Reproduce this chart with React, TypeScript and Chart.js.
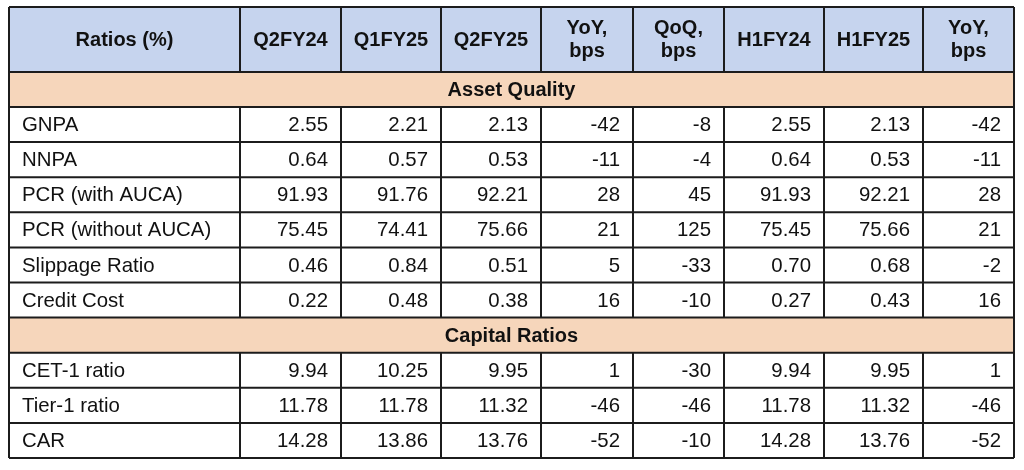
import React, { useEffect, useRef } from "react";
import { Chart, registerables } from "chart.js";

Chart.register(...registerables);

// ---- Data ----
const headers = ["Ratios (%)", "Q2FY24", "Q1FY25", "Q2FY25", "YoY,\nbps", "QoQ,\nbps", "H1FY24", "H1FY25", "YoY,\nbps"];
const sectionTitles = ["Asset Quality", "Capital Ratios"];
const assetLabels = ["GNPA", "NNPA", "PCR (with AUCA)", "PCR (without AUCA)", "Slippage Ratio", "Credit Cost"];
const capitalLabels = ["CET-1 ratio", "Tier-1 ratio", "CAR"];
const q2fy24 = [2.55, 0.64, 91.93, 75.45, 0.46, 0.22, 9.94, 11.78, 14.28];
const q1fy25 = [2.21, 0.57, 91.76, 74.41, 0.84, 0.48, 10.25, 11.78, 13.86];
const q2fy25 = [2.13, 0.53, 92.21, 75.66, 0.51, 0.38, 9.95, 11.32, 13.76];
const yoyBps = [-42, -11, 28, 21, 5, 16, 1, -46, -52];
const qoqBps = [-8, -4, 45, 125, -33, -10, -30, -46, -10];
const h1fy24 = [2.55, 0.64, 91.93, 75.45, 0.7, 0.27, 9.94, 11.78, 14.28];
const h1fy25 = [2.13, 0.53, 92.21, 75.66, 0.68, 0.43, 9.95, 11.32, 13.76];
const yoyH1Bps = [-42, -11, 28, 21, -2, 16, 1, -46, -52];

// ---- Layout (relative units) ----
const colWidths = [231, 101, 100, 100, 92, 91, 100, 99, 91];
const headerHeight = 1.85;

const FONT = '"Liberation Sans", Arial, Helvetica, sans-serif';
const HEADER_BG = "#c6d4ee";
const SECTION_BG = "#f6d6bb";
const LINE = "#1c1c1c";

type Row =
  | { kind: "section"; title: string }
  | { kind: "data"; label: string; idx: number };

function buildRows(): Row[] {
  const rows: Row[] = [];
  rows.push({ kind: "section", title: sectionTitles[0] });
  assetLabels.forEach((l, i) => rows.push({ kind: "data", label: l, idx: i }));
  rows.push({ kind: "section", title: sectionTitles[1] });
  capitalLabels.forEach((l, i) => rows.push({ kind: "data", label: l, idx: assetLabels.length + i }));
  return rows;
}

const columns: { values: number[]; decimals: number }[] = [
  { values: q2fy24, decimals: 2 },
  { values: q1fy25, decimals: 2 },
  { values: q2fy25, decimals: 2 },
  { values: yoyBps, decimals: 0 },
  { values: qoqBps, decimals: 0 },
  { values: h1fy24, decimals: 2 },
  { values: h1fy25, decimals: 2 },
  { values: yoyH1Bps, decimals: 0 },
];

const tablePlugin = {
  id: "tablePlugin",
  afterDraw(chart: any) {
    const ctx: CanvasRenderingContext2D = chart.ctx;
    const xs = chart.scales.x;
    const ys = chart.scales.y;
    const rows = buildRows();
    const totalRows = headerHeight + rows.length;

    const colEdges: number[] = [0];
    colWidths.forEach((w) => colEdges.push(colEdges[colEdges.length - 1] + w));
    const X = colEdges.map((v) => xs.getPixelForValue(v));
    const rowEdges: number[] = [0, headerHeight];
    rows.forEach((_, i) => rowEdges.push(headerHeight + i + 1));
    const Y = rowEdges.map((v) => ys.getPixelForValue(v));
    const left = X[0];
    const right = X[X.length - 1];

    ctx.save();
    // backgrounds
    ctx.fillStyle = "#ffffff";
    ctx.fillRect(left, Y[0], right - left, ys.getPixelForValue(totalRows) - Y[0]);
    ctx.fillStyle = HEADER_BG;
    ctx.fillRect(left, Y[0], right - left, Y[1] - Y[0]);
    rows.forEach((r, i) => {
      if (r.kind === "section") {
        ctx.fillStyle = SECTION_BG;
        ctx.fillRect(left, Y[i + 1], right - left, Y[i + 2] - Y[i + 1]);
      }
    });

    // text
    ctx.fillStyle = "#111111";
    ctx.textBaseline = "middle";
    ctx.font = `bold 20px ${FONT}`;
    ctx.textAlign = "center";
    headers.forEach((h, c) => {
      const cx = (X[c] + X[c + 1]) / 2;
      const cy = (Y[0] + Y[1]) / 2 + 1;
      const lines = h.split("\n");
      const lh = 23;
      lines.forEach((ln, k) => {
        ctx.fillText(ln, cx, cy + (k - (lines.length - 1) / 2) * lh);
      });
    });

    rows.forEach((r, i) => {
      const cy = (Y[i + 1] + Y[i + 2]) / 2 + 1;
      if (r.kind === "section") {
        ctx.font = `bold 20px ${FONT}`;
        ctx.textAlign = "center";
        ctx.fillText(r.title, (left + right) / 2, cy);
      } else {
        ctx.font = `20.4px ${FONT}`;
        ctx.textAlign = "left";
        ctx.fillText(r.label, X[0] + 13, cy);
        ctx.textAlign = "right";
        columns.forEach((col, c) => {
          ctx.fillText(col.values[r.idx].toFixed(col.decimals), X[c + 2] - 13, cy);
        });
      }
    });

    // grid lines
    ctx.strokeStyle = LINE;
    ctx.lineWidth = 2;
    ctx.beginPath();
    Y.forEach((y) => {
      ctx.moveTo(left, y);
      ctx.lineTo(right, y);
    });
    X.forEach((x, c) => {
      const outer = c === 0 || c === X.length - 1;
      if (outer) {
        ctx.moveTo(x, Y[0]);
        ctx.lineTo(x, Y[Y.length - 1]);
      } else {
        ctx.moveTo(x, Y[0]);
        ctx.lineTo(x, Y[1]);
        rows.forEach((r, i) => {
          if (r.kind === "data") {
            ctx.moveTo(x, Y[i + 1]);
            ctx.lineTo(x, Y[i + 2]);
          }
        });
      }
    });
    ctx.stroke();
    ctx.restore();
  },
};

export default function App() {
  const ref = useRef<HTMLCanvasElement | null>(null);
  useEffect(() => {
    if (!ref.current) return;
    const rows = buildRows();
    const total = colWidths.reduce((a, b) => a + b, 0);
    const chart = new Chart(ref.current, {
      type: "scatter",
      data: { datasets: [{ data: [] }] },
      options: {
        animation: false,
        responsive: false,
        devicePixelRatio: 1,
        layout: { padding: { left: 9, top: 7, right: 10, bottom: 12 } },
        plugins: { legend: { display: false }, tooltip: { enabled: false } },
        scales: {
          x: { type: "linear", min: 0, max: total, display: false },
          y: { type: "linear", min: 0, max: headerHeight + rows.length, reverse: true, display: false },
        },
      },
      plugins: [tablePlugin],
    });
    return () => chart.destroy();
  }, []);
  return (
    <div style={{ position: "fixed", left: 0, top: 0, width: 1024, height: 470, background: "#fff" }}>
      <canvas ref={ref} width={1024} height={470} style={{ display: "block" }} />
    </div>
  );
}
